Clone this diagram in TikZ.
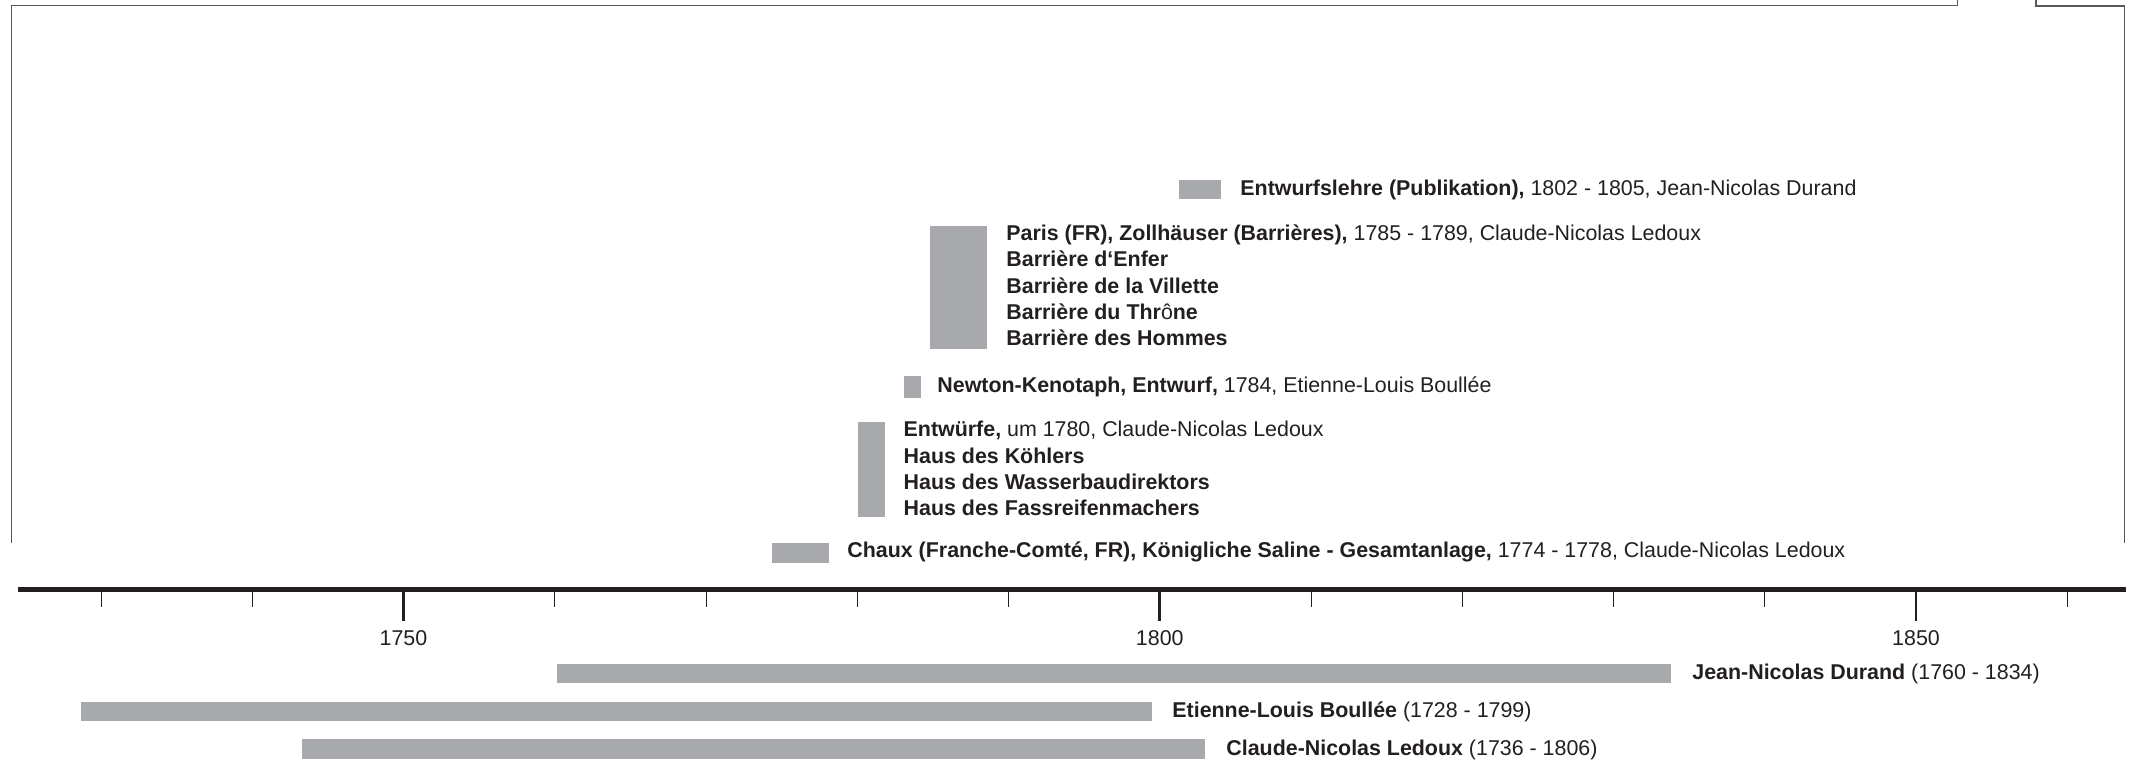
\documentclass[tikz,border=0pt]{standalone}
\usepackage{fontspec}
\setmainfont{Liberation Sans}
\usepackage{tikz}

\definecolor{bargray}{RGB}{168,169,173}
\definecolor{ink}{RGB}{35,31,32}

\tikzset{
  lbl/.style={anchor=base west, inner sep=0pt, text=ink,
    font=\fontsize{10.7}{13.15}\selectfont},
  yearlbl/.style={anchor=base, inner sep=0pt, text=ink,
    font=\fontsize{10.7}{13.15}\selectfont},
  bar/.style={fill=bargray},
  frameline/.style={draw=black!65, line width=0.6pt},
  axisline/.style={draw=ink, line width=2.7pt},
  minortick/.style={draw=ink, line width=0.5pt},
  majortick/.style={draw=ink, line width=1.3pt}
}

\begin{document}
\begin{tikzpicture}[x=0.5pt, y=-0.5pt]
			\useasboundingbox (0,0) rectangle (2138,767);
			% frame
			\draw[frameline] (11.7,542.7) -- (11.7,5.5) -- (1957.3,5.5) -- (1957.3,0);
			\draw[frameline] (2036,0) -- (2036,6) -- (2124.3,6) -- (2124.3,542.7);
			% works
			\fill[bar] (1179,180) rectangle (1221,199.3);
			\node[lbl] (lehre) at (1240,195.5) {\textbf{Entwurfslehre (Publikation),} 1802 - 1805, Jean-Nicolas Durand};
			\fill[bar] (930,225.5) rectangle (987,348.5);
			\node[lbl] (paris) at (1006,240.5) {\textbf{Paris (FR), Zollhäuser (Barrières),} 1785 - 1789, Claude-Nicolas Ledoux};
			\node[lbl] (enfer) at (1006,266.8) {\textbf{Barrière d‘Enfer}};
			\node[lbl] (villette) at (1006,293.1) {\textbf{Barrière de la Villette}};
			\node[lbl] (throne) at (1006,319.4) {\textbf{Barrière du Thr}ô\textbf{ne}};
			\node[lbl] (hommes) at (1006,345.7) {\textbf{Barrière des Hommes}};
			\fill[bar] (904,376) rectangle (920.5,398);
			\node[lbl] (newton) at (937,392) {\textbf{Newton-Kenotaph, Entwurf,} 1784, Etienne-Louis Boullée};
			\fill[bar] (857.7,421.7) rectangle (885,517.3);
			\node[lbl] (entw) at (903.3,436.7) {\textbf{Entwürfe,} um 1780, Claude-Nicolas Ledoux};
			\node[lbl] (koehler) at (903.3,463) {\textbf{Haus des Köhlers}};
			\node[lbl] (wasser) at (903.3,489.3) {\textbf{Haus des Wasserbaudirektors}};
			\node[lbl] (fass) at (903.3,515.6) {\textbf{Haus des Fassreifenmachers}};
			\fill[bar] (771.7,543.3) rectangle (829,562.7);
			\node[lbl] (chaux) at (847,557) {\textbf{Chaux (Franche-Comté, FR), Königliche Saline - Gesamtanlage,} 1774 - 1778, Claude-Nicolas Ledoux};
			% time axis
			\draw[axisline] (17.7,589.3) -- (2126.3,589.3);
			\foreach \yr in {1730,1740,...,1860}
				\draw[minortick] ({101+(\yr-1730)*15.125},592) -- ++(0,15);
			\foreach \yr in {1750,1800,1850} {
				\draw[majortick] ({101+(\yr-1730)*15.125},592) -- ++(0,29);
				\node[yearlbl] (y\yr) at ({101+(\yr-1730)*15.125},645) {\yr};
			}
			% architects
			\fill[bar] (556.5,664) rectangle (1671,683.3);
			\node[lbl] (durand) at (1692,679) {\textbf{Jean-Nicolas Durand} (1760 - 1834)};
			\fill[bar] (81.4,701.7) rectangle (1152,721.3);
			\node[lbl] (boullee) at (1172,717) {\textbf{Etienne-Louis Boullée} (1728 - 1799)};
			\fill[bar] (301.7,739.3) rectangle (1205,759);
			\node[lbl] (ledoux) at (1226,755) {\textbf{Claude-Nicolas Ledoux} (1736 - 1806)};
		\end{tikzpicture}
\end{document}
